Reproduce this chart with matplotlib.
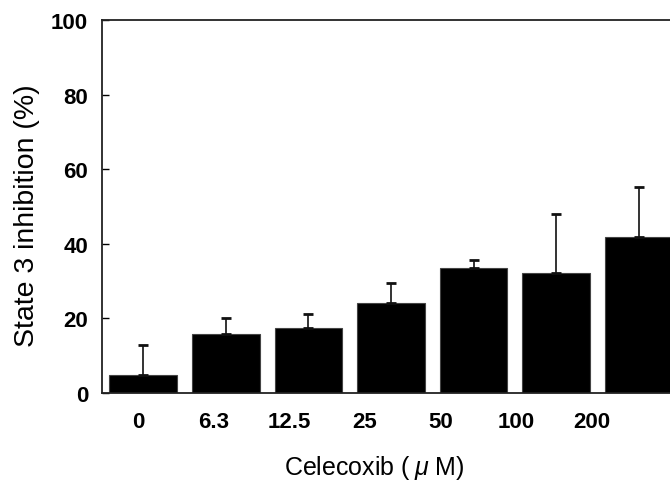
import matplotlib
matplotlib.use('Agg')

import numpy as np
import matplotlib.pyplot as plt

# data
doses = ["0", "6.3", "12.5", "25", "50", "100", "200"]
inhibition = [4.9, 15.8, 17.3, 24.2, 33.6, 32.1, 41.9]
err_up = [8.1, 4.3, 3.8, 5.2, 2.0, 15.8, 13.4]

plt.rcParams['font.family'] = ['Liberation Sans', 'DejaVu Sans']
plt.rcParams['mathtext.fontset'] = 'custom'
plt.rcParams['mathtext.it'] = 'Liberation Sans:italic'

fig = plt.figure(figsize=(6.70, 4.85), dpi=100)
ax = fig.add_axes([102 / 670, 91 / 485, 578 / 670, 373 / 485])

x = np.arange(len(doses))
ax.bar(x, inhibition, width=0.82, color='black', edgecolor='#444444', linewidth=0.8, zorder=2)
ax.errorbar(x, inhibition, yerr=[np.zeros(len(x)), err_up], fmt='none',
            ecolor='#111111', elinewidth=1.2, capsize=3.5, capthick=2, zorder=3)

ax.set_xlim(-0.5, 6.5)
ax.set_ylim(0, 100)
ax.set_yticks([0, 20, 40, 60, 80, 100])
ax.tick_params(axis='y', direction='in', length=5, width=1, labelsize=16, pad=10)
for lab in ax.get_yticklabels():
    lab.set_fontweight('bold')

# category labels sit slightly left of the bar centres in the reference
ax.set_xticks(x * 0.915 - 0.06)
ax.set_xticklabels(doses, fontsize=16, fontweight='bold')
ax.tick_params(axis='x', length=0, pad=13)

for s in ['left', 'top', 'bottom']:
    ax.spines[s].set_linewidth(1.3)
    ax.spines[s].set_color('#222222')
ax.spines['right'].set_visible(False)

ax.set_ylabel("State 3 inhibition (%)", fontsize=20.5, va='center')
ax.yaxis.set_label_coords(-75 / 578, (394 - 216) / 373)
ax.set_xlabel("Celecoxib (\u2009$\\mathit{\\mu}$ M)", fontsize=18, va='center')
ax.xaxis.set_label_coords((374 - 102) / 578, -(468 - 394) / 373)

plt.savefig("out.png", dpi=100)
plt.close()
